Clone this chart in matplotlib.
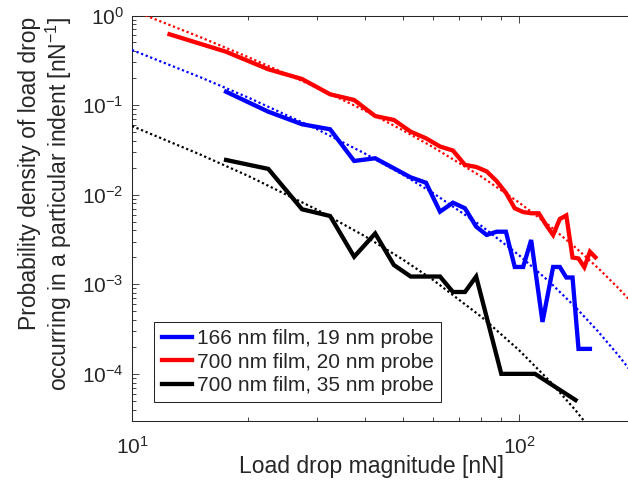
import matplotlib
matplotlib.use('Agg')
import matplotlib.pyplot as plt
from matplotlib.ticker import LogLocator, NullFormatter, LogFormatterSciNotation

plt.rcParams['font.family'] = ['Liberation Sans', 'DejaVu Sans']
plt.rcParams['mathtext.fontset'] = 'custom'
plt.rcParams['mathtext.rm'] = 'Liberation Sans'
plt.rcParams['mathtext.default'] = 'regular'
plt.rcParams['axes.unicode_minus'] = False

TXT = '#262626'

# ---- data ----
x_166_19 = [17.5, 22.5, 27.5, 32.5, 37.5, 42.5, 47.5, 52.5, 57.5, 62.5, 67.5, 72.5, 77.5,
            82.5, 87.5, 92.5, 97.5, 102.5, 107.5, 115, 122.5, 127.5, 132.5, 137.5, 142.5, 152.5]
y_166_19 = [0.141, 0.0844, 0.0611, 0.0537, 0.0238, 0.0255, 0.0197, 0.0156, 0.0136, 0.00646,
            0.00814, 0.00705, 0.0044, 0.00355, 0.00386, 0.00386, 0.00156, 0.00156, 0.00312,
            0.00038, 0.00156, 0.00156, 0.00119, 0.00119, 0.00019, 0.00019]

x_700_20 = [12.5, 17.5, 22.5, 27.5, 32.5, 37.5, 42.5, 47.5, 52.5, 57.5, 62.5, 67.5, 72.5,
            77.5, 82.5, 87.5, 92.5, 97.5, 102.5, 107.5, 112.5, 117.5, 122.5, 127.5, 132.5,
            137.5, 142.5, 147.5, 152.5, 157.5]
y_700_20 = [0.617, 0.394, 0.251, 0.1955, 0.132, 0.114, 0.0755, 0.0682, 0.0505, 0.0426,
            0.0345, 0.0311, 0.0215, 0.0204, 0.0182, 0.0142, 0.0105, 0.00705, 0.0064, 0.0062,
            0.0062, 0.0046, 0.00355, 0.00536, 0.00586, 0.00199, 0.00194, 0.00155, 0.00231, 0.0020]

x_700_35 = [17.5, 22.5, 27.5, 32.5, 37.5, 42.5, 47.5, 52.5, 57.5, 62.5, 67.5, 72.5, 77.5,
            90, 110, 140]
y_700_35 = [0.0244, 0.0194, 0.00687, 0.00578, 0.00203, 0.00369, 0.00164, 0.00122, 0.00122,
            0.00122, 0.00082, 0.00082, 0.00122, 0.0001, 0.0001, 5.1e-5]

# dotted fit curves
x_fit = [10, 15, 20, 30, 40, 50, 60, 80, 100, 120, 140, 160, 180, 200]
fit_166_19 = [0.412, 0.205, 0.121, 0.0541, 0.02875, 0.0168, 0.01041, 0.00447, 0.00211,
              0.00106, 0.000554, 0.000298, 0.000164, 9.22e-5]
fit_700_20 = [1.15, 0.574, 0.342, 0.1576, 0.0867, 0.0526, 0.0339, 0.01587, 0.00818,
              0.00449, 0.00257, 0.00152, 0.000919, 0.000567]
x_fit_35 = [10, 15, 20, 30, 40, 50, 60, 80, 100, 120, 140, 160]
fit_700_35 = [0.0583, 0.0281, 0.01614, 0.00683, 0.003435, 0.0019, 0.001117, 0.000432,
              0.000184, 8.32e-5, 3.92e-5, 1.9e-5]

labels = ['166 nm film, 19 nm probe', '700 nm film, 20 nm probe', '700 nm film, 35 nm probe']
colors = ['#0000ff', '#ff0000', '#000000']

# ---- figure ----
W, H = 628, 495
fig = plt.figure(figsize=(W / 100, H / 100), dpi=100)
ax = fig.add_axes([132 / W, (H - 420.7) / H, (635.5 - 132) / W, (420.7 - 15.5) / H])

series = [(x_166_19, y_166_19), (x_700_20, y_700_20), (x_700_35, y_700_35)]
handles = []
for (xs, ys), c, lab in zip(series, colors, labels):
    h, = ax.plot(xs, ys, color=c, lw=3.1, solid_joinstyle='miter', label=lab, zorder=3)
    handles.append(h)

dot = (0, (1, 1.2))
ax.plot(x_fit, fit_166_19, color=colors[0], lw=1.6, ls=dot, zorder=4)
ax.plot(x_fit, fit_700_20, color=colors[1], lw=1.6, ls=dot, zorder=4)
ax.plot(x_fit_35, fit_700_35, color=colors[2], lw=1.6, ls=dot, zorder=4)

ax.set_xscale('log')
ax.set_yscale('log')
ax.set_xlim(10, 200)
ax.set_ylim(3e-5, 1)

ax.xaxis.set_major_locator(LogLocator(base=10, numticks=10))
ax.yaxis.set_major_locator(LogLocator(base=10, numticks=10))
ax.xaxis.set_minor_locator(LogLocator(base=10, subs=range(2, 10), numticks=20))
ax.yaxis.set_minor_locator(LogLocator(base=10, subs=range(2, 10), numticks=20))
ax.xaxis.set_minor_formatter(NullFormatter())
ax.yaxis.set_minor_formatter(NullFormatter())
ax.xaxis.set_major_formatter(LogFormatterSciNotation())
ax.yaxis.set_major_formatter(LogFormatterSciNotation())

ax.tick_params(which='both', direction='in', top=True, right=True, colors=TXT,
               labelsize=15, width=0.6)
ax.tick_params(which='major', length=5)
ax.tick_params(which='minor', length=2.7)
ax.tick_params(axis='x', pad=11)
ax.tick_params(axis='y', pad=6)
for s in ax.spines.values():
    s.set_color(TXT)
    s.set_linewidth(0.75)

leg = fig.legend(handles=handles, labels=labels, loc='upper left',
                 bbox_to_anchor=(154.3 / W, 1 - 321.7 / H), bbox_transform=fig.transFigure,
                 fontsize=15, handlelength=1.45, handletextpad=0.25, borderpad=0.35,
                 labelspacing=0.22, borderaxespad=0, fancybox=False, framealpha=1)
leg.get_frame().set_edgecolor(TXT)
leg.get_frame().set_linewidth(0.75)
for t in leg.get_texts():
    t.set_color(TXT)

fig.text(371.5 / W, 1 - 467 / H, 'Load drop magnitude [nN]', ha='center', va='center',
         fontsize=16.5, color=TXT)
fig.text(46 / W, 1 - 17 / H,
         'Probability density of load drop\noccurring in a particular indent [nN$^{-1}$]',
         rotation=90, ha='center', va='top', multialignment='right', fontsize=16.5,
         color=TXT, linespacing=1.15)

fig.savefig('out.png', dpi=100)
